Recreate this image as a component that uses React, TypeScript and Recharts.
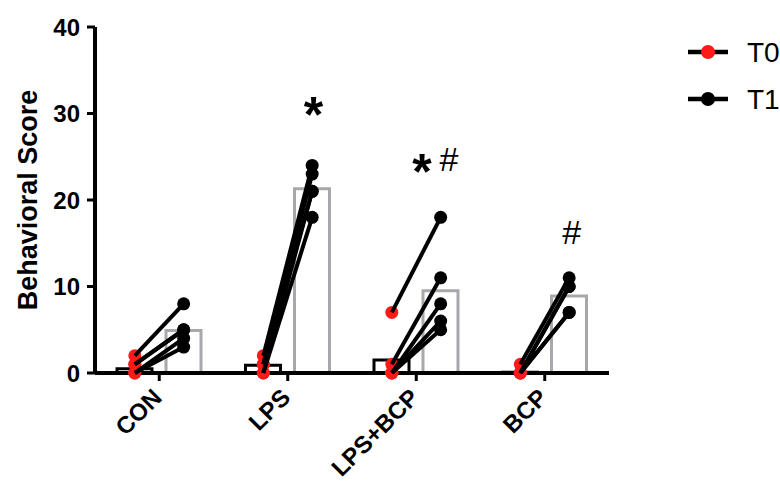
import React from "react";
import { ComposedChart, Bar, Scatter, XAxis, YAxis, Legend, Label } from "recharts";

const groups = ["CON", "LPS", "LPS+BCP", "BCP"];
const t0Means = [0.5, 0.9, 1.5, 0.1];
const t1Means = [4.9, 21.3, 9.5, 8.9];
// one row per animal, T0 -> T1
const t0Scores = [
  [2, 1, 1, 0, 0],
  [2, 1, 1, 0, 0],
  [7, 1, 0, 0, 0],
  [1, 0, 0, 0, 0],
];
const t1Scores = [
  [8, 5, 5, 4, 3],
  [24, 23, 21, 21, 18],
  [18, 11, 8, 6, 5],
  [11, 10, 10, 7, 7],
];
const yTicks = [0, 10, 20, 30, 40];
const marks = [
  { x: 1.7, y: 31.3, text: "*" },
  { x: 2.545, y: 24.7, text: "*" },
  { x: 2.755, y: 24.7, text: "#" },
  { x: 3.71, y: 16.3, text: "#" },
];
const legendItems = [
  { name: "T0", dot: "#ff1a1a" },
  { name: "T1", dot: "#000000" },
];

const font = "'Liberation Sans', Arial, sans-serif";
const red = "#ff1a1a";
const T0_POS = 0.31;
const T1_POS = 0.69;

const chartData = groups.map((g, i) => ({ group: g, t0: t0Means[i], t1: t1Means[i] }));
const redPoints = t0Scores.flatMap((row, i) => row.map((v) => ({ x: i + T0_POS, y: v })));
const pairs = t0Scores.flatMap((row, i) =>
  row.map((v, j) => [
    { x: i + T0_POS, y: v, end: false },
    { x: i + T1_POS, y: t1Scores[i][j], end: true },
  ])
);

const RedDot = (p: any) => <circle cx={p.cx} cy={p.cy} r={6.5} fill={red} />;
const EndDot = (p: any) =>
  p.payload && p.payload.end ? <circle cx={p.cx} cy={p.cy} r={6.5} fill="#000" /> : <g />;

const MarkText = (p: any) => {
  const star = p.payload.text === "*";
  const size = star ? 50 : 34;
  const base = p.cy + (star ? 0.6 : 0.345) * size;
  return (
    <text x={p.cx} y={base} textAnchor="middle" fontFamily={font} fontSize={size}
      fontWeight={star ? 700 : 400} fill="#000">
      {p.payload.text}
    </text>
  );
};

const GroupTick = ({ x, y, payload }: any) => {
  const tx = x + 4;
  const ty = y + 16;
  return (
    <text x={tx} y={ty} transform={`rotate(-45 ${tx} ${ty})`} textAnchor="end"
      fontFamily={font} fontSize={24} fontWeight={700} fill="#000">
      {payload.value}
    </text>
  );
};

const YLabel = (props: any) => {
  const vb = props.viewBox || { x: 0, y: 27, width: 95, height: 346 };
  const cx = vb.x + 37;
  const cy = vb.y + vb.height / 2;
  return (
    <text x={cx} y={cy} transform={`rotate(-90 ${cx} ${cy})`} textAnchor="middle"
      fontFamily={font} fontSize={27} fontWeight={700} fill="#000">
      Behavioral Score
    </text>
  );
};

const renderLegend = () => (
  <svg width={100} height={100}>
    {legendItems.map((item, i) => {
      const cy = 22 + i * 47;
      return (
        <g key={item.name}>
          <line x1={8} x2={48} y1={cy} y2={cy} stroke="#000" strokeWidth={4.5} />
          <circle cx={28} cy={cy} r={7} fill={item.dot} />
          <text x={67} y={cy + 10} fontFamily={font} fontSize={28} fill="#000">{item.name}</text>
        </g>
      );
    })}
  </svg>
);

export default function App() {
  return (
    <div style={{ position: "absolute", left: 0, top: 0, width: 780, height: 481, background: "#fff" }}>
      <ComposedChart width={780} height={481} data={chartData}
        margin={{ top: 27, right: 171, bottom: 48, left: 0 }} barSize={35} barGap={14}>
        <XAxis xAxisId="cat" dataKey="group" height={60} interval={0}
          axisLine={{ stroke: "#000", strokeWidth: 4 }} tickLine={{ stroke: "#000", strokeWidth: 3 }}
          tickSize={8} tick={<GroupTick />} />
        <XAxis xAxisId="num" type="number" dataKey="x" domain={[0, 4]} allowDataOverflow hide />
        <YAxis domain={[0, 40]} ticks={yTicks} width={95} interval={0}
          axisLine={{ stroke: "#000", strokeWidth: 4 }} tickLine={{ stroke: "#000", strokeWidth: 3 }}
          tickSize={8} tickMargin={7}
          tick={{ fontSize: 24, fontWeight: 700, fill: "#000", fontFamily: font }}>
          <Label content={YLabel} />
        </YAxis>
        <Legend layout="vertical" align="center" verticalAlign="middle"
          wrapperStyle={{ left: 680, top: 30, width: 100 }} content={renderLegend} />
        <Bar xAxisId="cat" dataKey="t0" fill="none" stroke="#000" strokeWidth={3} isAnimationActive={false} />
        <Bar xAxisId="cat" dataKey="t1" fill="none" stroke="#a8a8ac" strokeWidth={3} isAnimationActive={false} />
        <Scatter xAxisId="num" data={redPoints} dataKey="y" shape={RedDot} isAnimationActive={false} legendType="none" />
        {pairs.map((pts, k) => (
          <Scatter key={k} xAxisId="num" data={pts} dataKey="y" shape={EndDot}
            line={{ stroke: "#000", strokeWidth: 4 }} isAnimationActive={false} legendType="none" />
        ))}
        <Scatter xAxisId="num" data={marks} dataKey="y" shape={MarkText} isAnimationActive={false} legendType="none" />
      </ComposedChart>
    </div>
  );
}
